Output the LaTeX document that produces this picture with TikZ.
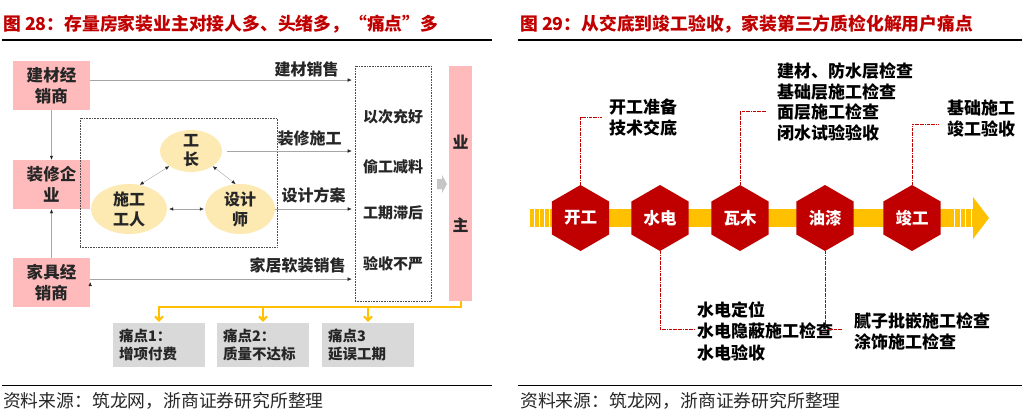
\documentclass[tikz,border=0pt]{standalone}
\usepackage{fontspec}
\setmainfont{Noto Sans CJK SC}
\usetikzlibrary{shapes.geometric,arrows.meta}
\definecolor{zsred}{RGB}{192,0,0}
\definecolor{boxpink}{RGB}{255,187,187}
\definecolor{oval}{RGB}{253,233,178}
\definecolor{band}{RGB}{255,192,0}
\definecolor{painbox}{RGB}{217,217,217}
\definecolor{ink}{RGB}{38,38,38}
\begin{document}
\begin{tikzpicture}[x=1pt,y=-1pt]
\tikzset{title/.style = {anchor=west, inner sep=0pt, text=zsred, font=\bfseries\fontsize{17.8}{20}\selectfont}}
\tikzset{party/.style = {fill=boxpink, minimum width=77pt, minimum height=49pt, inner sep=0pt, align=center, text=ink, font=\bfseries\fontsize{16.5}{20.5}\selectfont}}
\tikzset{role/.style = {ellipse, fill=oval, inner sep=0pt}}
\tikzset{tag/.style = {text=ink, inner sep=1pt, font=\bfseries\fontsize{16}{20}\selectfont}}
\tikzset{edge/.style = {draw=gray!70, -{Latex[length=4pt,width=3.5pt,color=ink]}}}
\tikzset{twoway/.style = {draw=gray!70, {Latex[length=4pt,width=3.5pt,color=ink]}-{Latex[length=4pt,width=3.5pt,color=ink]}}}
\tikzset{frame/.style = {draw=black!70, densely dotted, line width=0.6pt, inner sep=0pt}}
\tikzset{pain/.style = {fill=painbox, minimum height=44pt, text width=80pt, inner xsep=6pt, align=left, text=ink, font=\bfseries\fontsize{14.5}{18}\selectfont}}
\tikzset{yline/.style = {draw=band, line width=2pt, -{Straight Barb[length=4pt,width=8pt]}}}
\tikzset{stage/.style = {regular polygon, regular polygon sides=6, shape border rotate=30, minimum size=66pt, inner sep=0pt, fill=zsred, text=white, font=\bfseries\fontsize{16.5}{16}\selectfont}}
\tikzset{rline/.style = {draw=zsred, densely dash dot, line width=0.7pt}}
\tikzset{note/.style = {anchor=west, align=left, inner sep=0pt, font=\bfseries\fontsize{17}{21}\selectfont}}
\tikzset{src/.style = {anchor=west, inner sep=0pt, text=black!85, font=\fontsize{17.8}{20}\selectfont}}
\useasboundingbox (0,0) rectangle (1033,420);
% titles and rules
\node[title] (t28) at (3,24) {图 28：存量房家装业主对接人多、头绪多，“痛点”多};
\node[title] (t29) at (520,24) {图 29：从交底到竣工验收，家装第三方质检化解用户痛点};
\draw[line width=1.2pt] (2,40) -- (492,40);
\draw[line width=1.2pt] (518,40) -- (1022,40);
\draw[line width=1pt] (2,385) -- (492,385);
\draw[line width=1pt] (518,385) -- (1022,385);
\node[src] (s28) at (3,401) {资料来源：筑龙网，浙商证券研究所整理};
\node[src] (s29) at (520,401) {资料来源：筑龙网，浙商证券研究所整理};
% left: parties around the owner
\node[party] (jc) at (51.5,85.5) {建材经\\销商};
\node[party] (zx) at (51.5,184.5) {装修企\\业};
\node[party] (jj) at (51.5,282.5) {家具经\\销商};
\node[frame, minimum width=197pt, minimum height=129pt] (grp) at (178.5,182.5) {};
\node[role, minimum width=62pt, minimum height=42pt, label={[tag, align=center, font=\bfseries\fontsize{16}{19}\selectfont]center:工\\长}] (gz) at (191,151) {};
\node[role, minimum width=76pt, minimum height=50pt, label={[tag, align=center]center:施工\\工人}] (sg) at (129,209) {};
\node[role, minimum width=70pt, minimum height=50pt, label={[tag, align=center]center:设计\\师}] (sj) at (240,209) {};
\node[frame, minimum width=76pt, minimum height=235pt] (pb) at (393,183.5) {};
\node[tag, font=\bfseries\fontsize{15}{18}\selectfont] (p1) at (393,117) {以次充好};
\node[tag, font=\bfseries\fontsize{15}{18}\selectfont] (p2) at (393,167) {偷工减料};
\node[tag, font=\bfseries\fontsize{15}{18}\selectfont] (p3) at (393,213) {工期滞后};
\node[tag, font=\bfseries\fontsize{15}{18}\selectfont] (p4) at (393,264) {验收不严};
\node[fill=boxpink, minimum width=23pt, minimum height=235pt, inner sep=0pt, align=center, text=ink, font=\bfseries\fontsize{16}{20}\selectfont] (yz) at (460.5,183.5) {业\\[63pt]主};
\fill[gray!45] (437,179) -- (442,179) -- (442,175) -- (447,184) -- (442,193) -- (442,189) -- (437,189) -- cycle;
\draw[edge] (jc.south) -- (zx.north);
\draw[edge] (jj.north) -- (zx.south);
\draw[twoway] (gz.215) -- (sg.66);
\draw[twoway] (gz.325) -- (sj.100);
\draw[twoway, shorten <=2pt, shorten >=1pt] (sg) -- (sj);
\path[edge, shorten >=3pt]
(jc.8) edge node[tag, pos=1, anchor=south east, xshift=-15pt, yshift=2pt] {建材销售} (jc.8 -| pb.west)
(gz.east) edge[shorten <=5pt] node[tag, pos=1, anchor=south east, xshift=-12pt, yshift=4pt] {装修施工} (gz.east -| pb.west)
(sj.east) edge node[tag, pos=1, anchor=south east, xshift=-8pt, yshift=5pt] {设计方案} (sj.east -| pb.west)
(jj.5) edge node[tag, pos=1, anchor=south east, xshift=-8pt, yshift=5pt] {家居软装销售} (jj.5 -| pb.west);
% pain points
\node[pain] (tp1) at (159,345) {痛点1：\\增项付费};
\node[pain] (tp2) at (263,345) {痛点2：\\质量不达标};
\node[pain] (tp3) at (368,345) {痛点3\\延误工期};
\coordinate (bus) at (300,307);
\draw[yline] (yz.south) |- (bus -| tp1.north) -- ([yshift=1pt]tp1.north);
\draw[yline] (bus -| tp2.north) -- ([yshift=1pt]tp2.north);
\draw[yline] (bus -| tp3.north) -- ([yshift=1pt]tp3.north);
% right: inspection timeline
\fill[band] (530,209) rectangle (973,227);
\fill[band] (973,197) -- (989,218) -- (973,239) -- cycle;
\foreach \x in {534,539,544,549,954,960,965,971}
  \draw[white, line width=1pt] (\x,208.5) -- (\x,227.5);
\node[stage] (kg) at (580.5,218) {开工};
\node[stage] (sd) at (660,218) {水电};
\node[stage] (wm) at (740,218) {瓦木};
\node[stage] (yq) at (825,218) {油漆};
\node[stage] (jg) at (912,218) {竣工};
\node[note] (n1) at (609,117.5) {开工准备\\技术交底};
\node[note, font=\bfseries\fontsize{17}{20.5}\selectfont] (n3) at (777,102) {建材、防水层检查\\基础层施工检查\\面层施工检查\\闭水试验验收};
\node[note] (n5) at (947,118.5) {基础施工\\竣工验收};
\node[note, font=\bfseries\fontsize{17}{21.5}\selectfont] (n2) at (697,331) {水电定位\\水电隐蔽施工检查\\水电验收};
\node[note] (n4) at (854,331.5) {腻子批嵌施工检查\\涂饰施工检查};
\draw[rline] (kg.north) |- ([xshift=-7pt]n1.west);
\draw[rline] (wm.north) |- ([xshift=-10pt,yshift=-9pt]n3.west);
\draw[rline] (jg.north) |- ([xshift=-8pt,yshift=-5.5pt]n5.west);
\draw[rline] (sd.south) |- ([xshift=-2pt,yshift=2pt]n2.west);
\draw[rline] (yq.south) |- ([xshift=-11pt,yshift=2.5pt]n4.west);
\end{tikzpicture}
\end{document}
